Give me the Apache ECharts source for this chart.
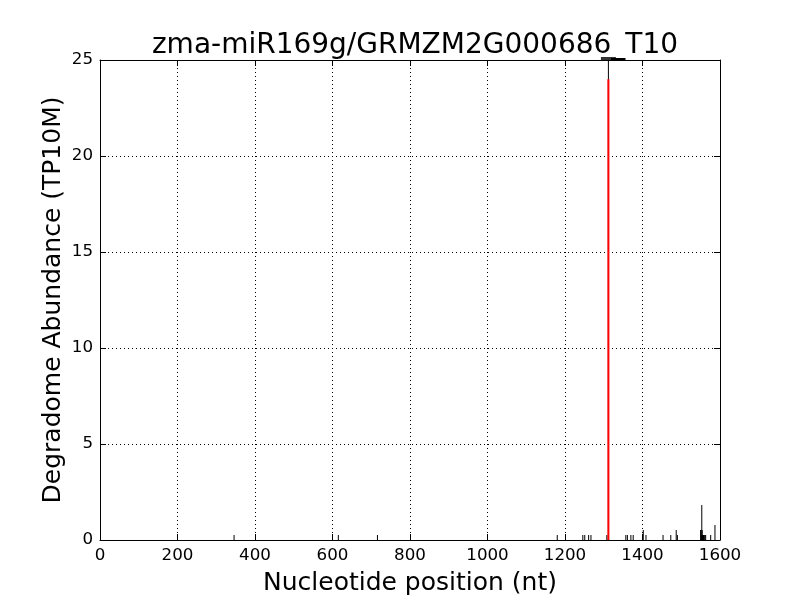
<!DOCTYPE html>
<html><head><meta charset="utf-8">
<script src="https://cdn.jsdelivr.net/npm/echarts@6/dist/echarts.min.js"></script>
<style>html,body{margin:0;padding:0;background:#fff}#c{width:800px;height:600px}</style>
</head><body><div id="c"></div>
<script>
const titleText = 'zma-miR169g/GRMZM2G000686_T10';
const xLabel = 'Nucleotide position (nt)';
const yLabel = 'Degradome Abundance (TP10M)';
// black degradome peaks: positions and abundances
const blackPos = [346, 615, 716, 1180, 1246, 1251, 1261, 1267, 1308, 1312, 1357, 1361, 1370, 1376, 1402, 1409, 1453, 1473, 1487, 1490,
  1550, 1551, 1552, 1553, 1554, 1555, 1556, 1557, 1558, 1559, 1561, 1563, 1576, 1587];
const blackVal = [0.26, 0.26, 0.26, 0.26, 0.26, 0.26, 0.26, 0.26, 0.26, 25, 0.26, 0.26, 0.26, 0.26, 0.52, 0.26, 0.26, 0.26, 0.52, 0.26,
  0.52, 0.52, 0.26, 1.82, 0.52, 0.26, 0.26, 0.26, 0.26, 0.26, 0.26, 0.26, 0.26, 0.78];
// red cleavage site
const redPos = [1312];
const redVal = [24];
const topMarkPos = [1312];
const topMarkVal = [25];

const FONT = 'DejaVu Sans';
const chart = echarts.init(document.getElementById('c'), null, {renderer: 'canvas'});

function stems(color, width) {
  return function (params, api) {
    const x = api.value(0), y = api.value(1);
    const p0 = api.coord([x, 0]);
    const p1 = api.coord([x, y]);
    return {
      type: 'line',
      shape: {x1: p0[0], y1: p0[1], x2: p1[0], y2: p1[1]},
      style: {stroke: color, lineWidth: width}
    };
  };
}

const tickStyle = {show: true, inside: true, length: 6, lineStyle: {color: '#000', width: 1}};
const gridLine = {show: true, lineStyle: {color: '#000', width: 1, type: [1, 3]}};

chart.setOption({
  animation: false,
  backgroundColor: '#fff',
  title: {
    text: titleText, left: 410, top: 27, textAlign: 'center',
    textStyle: {fontFamily: FONT, fontSize: 28, fontWeight: 'normal', color: '#000'}
  },
  grid: {left: 100, right: 80, top: 60, bottom: 60, show: false, outerBoundsMode: 'none', containLabel: false},
  xAxis: [{
    type: 'value', min: 0, max: 1600, interval: 200, position: 'bottom',
    name: xLabel, nameLocation: 'middle', nameGap: 31, nameMoveOverlap: false,
    nameTextStyle: {fontFamily: FONT, fontSize: 25, color: '#000'},
    axisLine: {show: true, onZero: false, lineStyle: {color: '#000', width: 1}},
    axisTick: tickStyle,
    axisLabel: {fontFamily: FONT, fontSize: 16.7, color: '#000', margin: 7, formatter: v => String(v)},
    splitLine: gridLine
  }, {
    type: 'value', min: 0, max: 1600, interval: 200, position: 'top',
    axisLine: {show: true, onZero: false, lineStyle: {color: '#000', width: 1}},
    axisTick: tickStyle, axisLabel: {show: false}, splitLine: {show: false}
  }],
  yAxis: [{
    type: 'value', min: 0, max: 25, interval: 5, position: 'left',
    name: yLabel, nameLocation: 'middle', nameGap: 34, nameRotate: 90, nameMoveOverlap: false,
    nameTextStyle: {fontFamily: FONT, fontSize: 25, color: '#000'},
    axisLine: {show: true, onZero: false, lineStyle: {color: '#000', width: 1}},
    axisTick: tickStyle,
    axisLabel: {fontFamily: FONT, fontSize: 16.7, color: '#000', margin: 7, formatter: v => String(v)},
    splitLine: gridLine
  }, {
    type: 'value', min: 0, max: 25, interval: 5, position: 'right',
    axisLine: {show: true, onZero: false, lineStyle: {color: '#000', width: 1}},
    axisTick: tickStyle, axisLabel: {show: false}, splitLine: {show: false}
  }],
  series: [{
    type: 'custom', renderItem: stems('#000', 1), clip: true, z: 3,
    data: blackPos.map((p, i) => [p, blackVal[i]])
  }, {
    type: 'custom', renderItem: stems('#ff0000', 2), clip: true, z: 4,
    data: redPos.map((p, i) => [p, redVal[i]])
  }, {
    type: 'scatter', symbol: 'rect', symbolSize: [15, 4], symbolOffset: [0, -1],
    itemStyle: {color: '#000'}, clip: false, z: 5, silent: true,
    data: topMarkPos.map((p, i) => [p, topMarkVal[i]])
  }]
});
</script></body></html>
